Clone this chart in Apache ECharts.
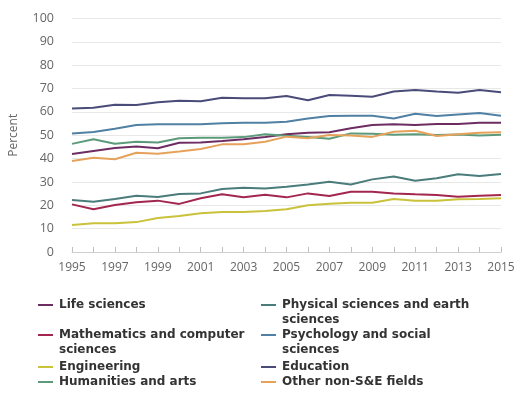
<!DOCTYPE html>
<html>
<head>
<meta charset="utf-8">
<script src="https://cdn.jsdelivr.net/npm/echarts@6/dist/echarts.min.js"></script>
<style>
html,body{margin:0;padding:0;background:#fff;}
#c{width:527px;height:395px;}
</style>
</head>
<body>
<div id="c"></div>
<script>
const years = ['1995','1996','1997','1998','1999','2000','2001','2002','2003','2004','2005','2006','2007','2008','2009','2010','2011','2012','2013','2014','2015'];

const lifeSciences = [42.0,43.3,44.5,45.2,44.4,46.8,46.9,47.5,48.3,49.3,50.4,51.1,51.3,53.0,54.4,54.7,54.4,54.8,54.8,55.4,55.3];
const physicalSciences = [22.3,21.5,22.7,24.1,23.6,24.8,25.1,27.0,27.5,27.2,27.9,28.9,30.1,28.9,31.1,32.3,30.5,31.6,33.3,32.5,33.4];
const mathCS = [20.4,18.3,20.1,21.3,22.0,20.6,23.0,24.7,23.4,24.5,23.4,25.1,24.0,25.8,25.8,25.1,24.7,24.4,23.7,24.1,24.4];
const psychSocial = [50.8,51.4,52.8,54.4,54.7,54.7,54.7,55.1,55.4,55.4,55.8,57.2,58.2,58.4,58.4,57.2,59.2,58.2,58.9,59.5,58.4];
const engineering = [11.6,12.3,12.3,12.8,14.6,15.4,16.6,17.1,17.1,17.6,18.3,20.0,20.7,21.1,21.1,22.7,22.0,22.0,22.6,22.7,23.0];
const education = [61.5,61.8,63.1,63.0,64.1,64.8,64.6,66.1,65.8,65.8,66.8,65.0,67.2,66.9,66.5,68.7,69.4,68.7,68.2,69.4,68.4];
const humanities = [46.3,48.3,46.4,47.2,46.9,48.7,48.9,48.9,49.2,50.4,49.8,49.3,48.5,50.8,50.6,50.2,50.4,50.1,50.3,49.9,50.2];
const otherNonSE = [39.0,40.4,39.7,42.5,42.1,43.0,44.1,46.1,46.1,47.2,49.4,48.7,50.1,49.9,49.3,51.5,51.9,49.7,50.4,51.1,51.3];

const yTicks = [0,10,20,30,40,50,60,70,80,90,100];

const names = ['Life sciences','Physical sciences and earth sciences','Mathematics and computer sciences','Psychology and social sciences','Engineering','Education','Humanities and arts','Other non-S&E fields'];
const values = [lifeSciences, physicalSciences, mathCS, psychSocial, engineering, education, humanities, otherNonSE];
const colors = ['#6e2d62','#4a7c7c','#a3264e','#5080a3','#c9c23a','#4a4b78','#5b9a7a','#e6a25a'];

// legend layout: [left, top, first line, continuation]
const legendPos = [
  [38, 299, 'Life sciences', null],
  [261, 299, 'Physical sciences and earth', 'sciences'],
  [38, 329, 'Mathematics and computer', 'sciences'],
  [261, 329, 'Psychology and social', 'sciences'],
  [38, 361, 'Engineering', null],
  [261, 361, 'Education', null],
  [38, 376, 'Humanities and arts', null],
  [261, 376, 'Other non-S&E fields', null]
];
const legendFont = {fontFamily:'DejaVu Sans', fontWeight:'bold', fontSize:12, color:'#333'};

const legends = names.map((n,i)=>({
  data:[n], left:legendPos[i][0], top:legendPos[i][1], padding:0,
  icon:'rect', itemWidth:15, itemHeight:2, itemGap:0,
  selectedMode:false,
  formatter: ()=>legendPos[i][2],
  textStyle: Object.assign({padding:[0,0,0,1]}, legendFont)
}));

const graphics = [];
legendPos.forEach((p,i)=>{
  if(p[3]){
    graphics.push({type:'text', left:p[0]+21, top:p[1]+15, style:{text:p[3], font:'bold 12px "DejaVu Sans"', fill:'#333'}});
  }
});

const chart = echarts.init(document.getElementById('c'), null, {renderer:'canvas'});
chart.setOption({
  animation:false,
  backgroundColor:'#fff',
  grid:{left:71, right:26, top:18.5, bottom:143, containLabel:false},
  legend: legends,
  graphic: graphics,
  xAxis:{
    type:'category', data:years, boundaryGap:false,
    axisLine:{lineStyle:{color:'#cfcfcf'}},
    axisTick:{show:true, inside:true, length:5, interval:0, lineStyle:{color:'#bfbfbf'}},
    axisLabel:{interval:1, margin:10, color:'#666', fontFamily:'Open Sans', fontSize:12}
  },
  yAxis:{
    type:'value', min:yTicks[0], max:yTicks[yTicks.length-1], interval:10,
    name:'Percent', nameLocation:'middle', nameGap:52, nameRotate:90,
    nameTextStyle:{color:'#666', fontFamily:'Open Sans', fontSize:12},
    axisLine:{show:false}, axisTick:{show:false},
    axisLabel:{margin:18, color:'#666', fontFamily:'Open Sans', fontSize:12.5},
    splitLine:{lineStyle:{color:'#e8e8e8'}}
  },
  series: names.map((n,i)=>({
    name:n, type:'line', data:values[i], showSymbol:false, symbol:'none',
    lineStyle:{width:2, color:colors[i]}, itemStyle:{color:colors[i]},
    emphasis:{disabled:true}
  }))
});
</script>
</body>
</html>
